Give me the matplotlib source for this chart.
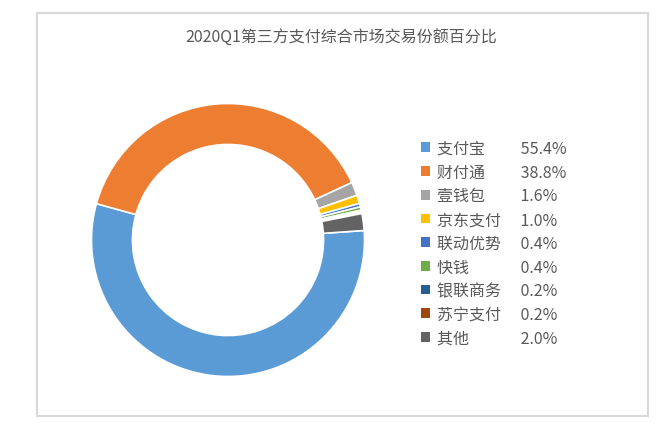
import matplotlib
matplotlib.use("Agg")
import matplotlib.pyplot as plt
from matplotlib.patches import Rectangle, Patch

plt.rcParams['font.family'] = ['Noto Sans CJK SC', 'DejaVu Sans']

# data
companies = ['支付宝', '财付通', '壹钱包', '京东支付', '联动优势', '快钱', '银联商务', '苏宁支付', '其他']
shares = [55.4, 38.8, 1.6, 1.0, 0.4, 0.4, 0.2, 0.2, 2.0]
colors = ['#5B9BD5', '#ED7D31', '#A5A5A5', '#FFC000', '#4472C4',
          '#70AD47', '#255E91', '#9E480E', '#636363']
title = '2020Q1第三方支付综合市场交易份额百分比'

W, H = 669, 431
fig = plt.figure(figsize=(W / 100, H / 100), dpi=100)

# chart area border (pixel coords -> figure fraction)
x0, y0, x1, y1 = 36.5, 13.7, 648, 416.7
fig.patches.append(Rectangle((x0 / W, 1 - y1 / H), (x1 - x0) / W, (y1 - y0) / H,
                             transform=fig.transFigure, fill=False,
                             edgecolor='#d9d9d9', linewidth=1.6))

fig.text(341 / W, 1 - 38.5 / H, title, ha='center', va='center',
         fontsize=11.5, color='#595959')

# donut
cx, cy, r = 228, 241, 136.5
half = 142
ax = fig.add_axes([(cx - half) / W, 1 - (cy + half) / H, 2 * half / W, 2 * half / H])
ax.pie(shares, colors=colors, startangle=4, counterclock=False, radius=1,
       wedgeprops=dict(width=0.3, edgecolor='white', linewidth=1.2))
lim = half / r
ax.set_xlim(-lim, lim)
ax.set_ylim(-lim, lim)
ax.set_aspect('equal')
ax.axis('off')

# legend
labels = []
for name, val in zip(companies, shares):
    pad = '\u3000' * (5 - len(name))
    labels.append(f'{name}{pad} {val:.1f}%')
handles = [Patch(facecolor=c, edgecolor='none') for c in colors]
fig.legend(handles, labels, loc='upper left',
           bbox_to_anchor=(421 / W, 1 - 141 / H), frameon=False,
           fontsize=11.5, labelcolor='#595959', handlelength=0.56,
           handleheight=0.56, handletextpad=0.45, labelspacing=0.42,
           borderpad=0, borderaxespad=0)

fig.savefig('out.png', dpi=100)
